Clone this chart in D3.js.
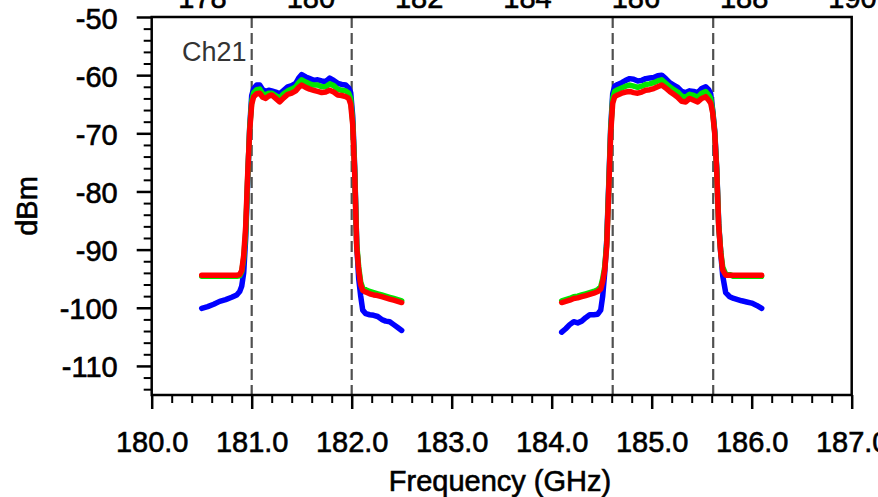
<!DOCTYPE html>
<html>
<head>
<meta charset="utf-8">
<script src="https://cdn.jsdelivr.net/npm/d3@7"></script>
<style>
  html, body { margin: 0; padding: 0; background: #fff; }
  svg { display: block; }
  text { font-family: "Liberation Sans", Arial, Helvetica, sans-serif; }
  .heavy { stroke: #000; stroke-width: 0.6px; }
</style>
</head>
<body>
<div id="chart"></div>
<script>
// ---------- data ----------
const xMajorTicks = [180, 181, 182, 183, 184, 185, 186, 187];
const yMajorTicks = [-110, -100, -90, -80, -70, -60, -50];
const topTickLabels = [178, 180, 182, 184, 186, 188, 190];
const markerFreqs = [181.0, 182.0, 184.61, 185.615];
const channelLabel = "Ch21";

// left channel frequency grid (GHz)
const freqLeft = [180.50,180.56,180.62,180.68,180.74,180.80,180.85,180.88,180.90,180.92,
  180.94,180.96,180.98,181.00,181.02,181.05,181.08,181.11,181.14,181.17,
  181.20,181.24,181.28,181.32,181.36,181.40,181.44,181.47,181.50,181.54,
  181.58,181.62,181.66,181.70,181.74,181.78,181.82,181.86,181.90,181.94,
  181.97,181.99,182.01,182.03,182.05,182.07,182.09,182.11,182.14,182.18,
  182.22,182.26,182.30,182.34,182.38,182.42,182.46,182.50];
const blueLeft = [-100.1,-99.8,-99.4,-98.9,-98.6,-98.2,-97.8,-97.2,-96.3,-94.0,
  -88.0,-78.0,-69.0,-63.5,-62.3,-61.7,-61.7,-62.5,-62.8,-62.6,
  -62.7,-62.9,-63.2,-62.6,-62.0,-61.8,-61.4,-60.5,-59.9,-60.3,
  -60.6,-60.9,-60.8,-61.0,-61.1,-60.5,-60.9,-61.4,-61.6,-61.7,
  -62.2,-63.0,-67.0,-76.0,-89.0,-95.0,-98.0,-100.4,-101.0,-101.2,
  -101.3,-101.5,-102.0,-102.3,-102.4,-102.9,-103.4,-103.9];
const greenLeft = [-94.6,-94.6,-94.6,-94.6,-94.6,-94.6,-94.6,-94.5,-93.8,-91.5,
  -87.0,-77.5,-69.2,-64.5,-63.0,-62.5,-62.4,-63.2,-63.4,-63.1,
  -63.1,-63.5,-63.9,-63.2,-62.7,-62.4,-62.0,-61.3,-60.8,-61.2,
  -61.5,-61.7,-61.7,-62.0,-62.0,-61.5,-61.8,-62.4,-62.6,-62.7,
  -63.1,-64.0,-68.0,-76.5,-89.0,-93.0,-95.6,-96.6,-96.9,-97.2,
  -97.4,-97.6,-97.8,-98.0,-98.2,-98.4,-98.6,-98.8];
const redLeft = [-94.4,-94.4,-94.4,-94.4,-94.4,-94.4,-94.4,-94.3,-93.6,-91.0,
  -86.0,-77.0,-69.5,-65.0,-63.7,-63.2,-63.1,-63.8,-64.0,-63.6,
  -63.4,-64.0,-64.6,-63.9,-63.3,-63.1,-62.7,-62.1,-61.7,-62.1,
  -62.4,-62.6,-62.8,-63.0,-62.9,-62.6,-62.9,-63.4,-63.5,-63.7,
  -64.0,-65.0,-68.5,-77.0,-89.5,-93.5,-96.0,-97.0,-97.3,-97.6,
  -97.8,-97.9,-98.1,-98.3,-98.5,-98.7,-98.9,-99.1];

// right channel frequency grid (GHz)
const freqRight = [184.10,184.14,184.18,184.22,184.26,184.30,184.34,184.38,184.42,184.46,
  184.49,184.51,184.53,184.55,184.57,184.59,184.61,184.63,184.66,184.70,
  184.74,184.78,184.82,184.86,184.90,184.94,184.98,185.02,185.06,185.10,
  185.14,185.18,185.22,185.26,185.30,185.34,185.38,185.42,185.46,185.50,
  185.54,185.57,185.59,185.61,185.63,185.65,185.67,185.69,185.71,185.74,
  185.78,185.82,185.86,185.90,185.95,186.00,186.05,186.10];
const blueRight = [-104.2,-103.6,-102.9,-102.4,-102.6,-102.3,-101.7,-101.2,-101.2,-101.1,
  -100.4,-98.0,-94.0,-88.5,-79.0,-69.0,-63.2,-61.9,-61.6,-61.3,
  -60.9,-60.6,-60.7,-61.0,-60.9,-60.6,-60.5,-60.4,-60.1,-60.0,
  -60.6,-61.3,-61.7,-62.1,-62.8,-63.0,-62.7,-62.8,-63.0,-62.3,
  -62.0,-62.5,-63.2,-66.0,-69.5,-76.0,-85.5,-90.5,-94.5,-97.4,
  -98.1,-98.4,-98.6,-98.8,-99.0,-99.2,-99.6,-100.1];
const greenRight = [-98.8,-98.6,-98.4,-98.1,-98.0,-97.8,-97.6,-97.4,-97.2,-96.9,
  -96.4,-95.0,-93.0,-89.0,-79.5,-69.5,-64.0,-62.8,-62.5,-62.2,
  -61.9,-61.7,-61.9,-62.1,-61.9,-61.6,-61.5,-61.3,-61.0,-60.8,
  -61.4,-62.0,-62.5,-62.9,-63.6,-63.8,-63.3,-63.5,-63.8,-63.1,
  -62.8,-63.4,-64.0,-66.2,-69.8,-76.2,-85.8,-90.3,-93.0,-94.2,
  -94.3,-94.6,-94.6,-94.6,-94.6,-94.6,-94.6,-94.6];
const redRight = [-99.1,-98.9,-98.7,-98.4,-98.3,-98.1,-97.9,-97.7,-97.5,-97.2,
  -96.8,-95.5,-93.5,-89.5,-80.0,-70.0,-64.8,-63.7,-63.4,-63.1,
  -62.9,-62.8,-63.0,-63.1,-62.9,-62.6,-62.5,-62.3,-62.0,-61.7,
  -62.2,-62.8,-63.3,-63.8,-64.5,-64.6,-64.0,-64.3,-64.6,-64.0,
  -63.7,-64.3,-64.8,-66.5,-70.0,-76.5,-86.0,-90.5,-93.5,-94.4,
  -94.4,-94.4,-94.4,-94.4,-94.4,-94.4,-94.4,-94.4];

const seriesNames = ["blue", "green", "red"];
const seriesColors = ["#0000ff", "#00e600", "#ff0000"];
const leftValues = [blueLeft, greenLeft, redLeft];
const rightValues = [blueRight, greenRight, redRight];

// ---------- chart ----------
const W = 878, H = 497;
const svg = d3.select("#chart").append("svg").attr("width", W).attr("height", H);

const x = d3.scaleLinear().domain([180, 187]).range([151.7, 851.7]);
const y = d3.scaleLinear().domain([-115, -50]).range([395, 17]);
const xTop = d3.scaleLinear().domain([178, 190]).range([202, 852]);

const fontSize = 29;
const hyphenInt = d => String(d3.format("d")(d)).replace("\u2212", "-");

// top labels (from a chart above, cut off as in the reference)
const topAxis = svg.append("g")
  .call(d3.axisTop(xTop).tickValues(topTickLabels).tickSize(0).tickFormat(d3.format("d")));
topAxis.select(".domain").remove();
topAxis.selectAll("text").attr("y", 8).attr("dy", 0).attr("class", "heavy")
  .attr("font-size", fontSize).attr("fill", "#000")
  .style("font-family", '"Liberation Sans", Arial, sans-serif');

// dashed marker lines
svg.append("g").selectAll("line").data(markerFreqs).join("line")
  .attr("x1", d => x(d)).attr("x2", d => x(d))
  .attr("y1", y(-50)).attr("y2", y(-115))
  .attr("stroke", "#505050").attr("stroke-width", 2.2)
  .attr("stroke-dasharray", "11,5");

// traces
const line = d3.line().x(d => x(d[0])).y(d => y(d[1]));
const traces = svg.append("g");
seriesNames.forEach((name, i) => {
  [[freqLeft, leftValues[i]], [freqRight, rightValues[i]]].forEach(([fs, vs]) => {
    const pts = fs.map((f, k) => [f, vs[k]]);
    traces.append("path").datum(pts)
      .attr("d", line)
      .attr("fill", "none")
      .attr("stroke", seriesColors[i])
      .attr("stroke-width", 5.5)
      .attr("stroke-linejoin", "round")
      .attr("stroke-linecap", "round");
  });
});

// minor ticks
const xMinor = d3.range(180, 187.001, 0.2).filter(v => Math.abs(v - Math.round(v)) > 1e-6);
const yMinor = d3.range(-114, -50, 2).filter(v => v % 10 !== 0);

const gxMinor = svg.append("g").attr("transform", `translate(0,${y(-115)})`)
  .call(d3.axisBottom(x).tickValues(xMinor).tickSize(8).tickFormat(""));
gxMinor.select(".domain").remove();
gxMinor.selectAll("line").attr("stroke-width", 2);

const gyMinor = svg.append("g").attr("transform", `translate(${x(180)},0)`)
  .call(d3.axisLeft(y).tickValues(yMinor).tickSize(8).tickFormat(""));
gyMinor.select(".domain").remove();
gyMinor.selectAll("line").attr("stroke-width", 2);

// major ticks + labels
const gx = svg.append("g").attr("transform", `translate(0,${y(-115)})`)
  .call(d3.axisBottom(x).tickValues(xMajorTicks).tickSize(14).tickFormat(d3.format(".1f")));
gx.select(".domain").remove();
gx.selectAll("line").attr("stroke-width", 2.5);
gx.selectAll("text").attr("y", 57).attr("dy", 0).attr("class", "heavy")
  .attr("font-size", fontSize).attr("fill", "#000")
  .style("font-family", '"Liberation Sans", Arial, sans-serif');

const gy = svg.append("g").attr("transform", `translate(${x(180)},0)`)
  .call(d3.axisLeft(y).tickValues(yMajorTicks).tickSize(15).tickFormat(hyphenInt));
gy.select(".domain").remove();
gy.selectAll("line").attr("stroke-width", 2.5);
gy.selectAll("text").attr("x", -34).attr("dy", "0.38em").attr("class", "heavy")
  .attr("font-size", fontSize).attr("fill", "#000")
  .style("font-family", '"Liberation Sans", Arial, sans-serif');

// frame
svg.append("rect")
  .attr("x", x(180)).attr("y", y(-50))
  .attr("width", x(187) - x(180)).attr("height", y(-115) - y(-50))
  .attr("fill", "none").attr("stroke", "#000").attr("stroke-width", 2.5);

// channel label
svg.append("text").attr("x", 182).attr("y", 61)
  .attr("font-size", 27).attr("fill", "#333").text(channelLabel);

// axis titles
svg.append("text").attr("x", 500).attr("y", 491).attr("class", "heavy")
  .attr("text-anchor", "middle").attr("font-size", fontSize).attr("fill", "#000")
  .text("Frequency (GHz)");
svg.append("text").attr("transform", "translate(37,206) rotate(-90)").attr("class", "heavy")
  .attr("text-anchor", "middle").attr("font-size", fontSize).attr("fill", "#000")
  .text("dBm");
</script>
</body>
</html>
